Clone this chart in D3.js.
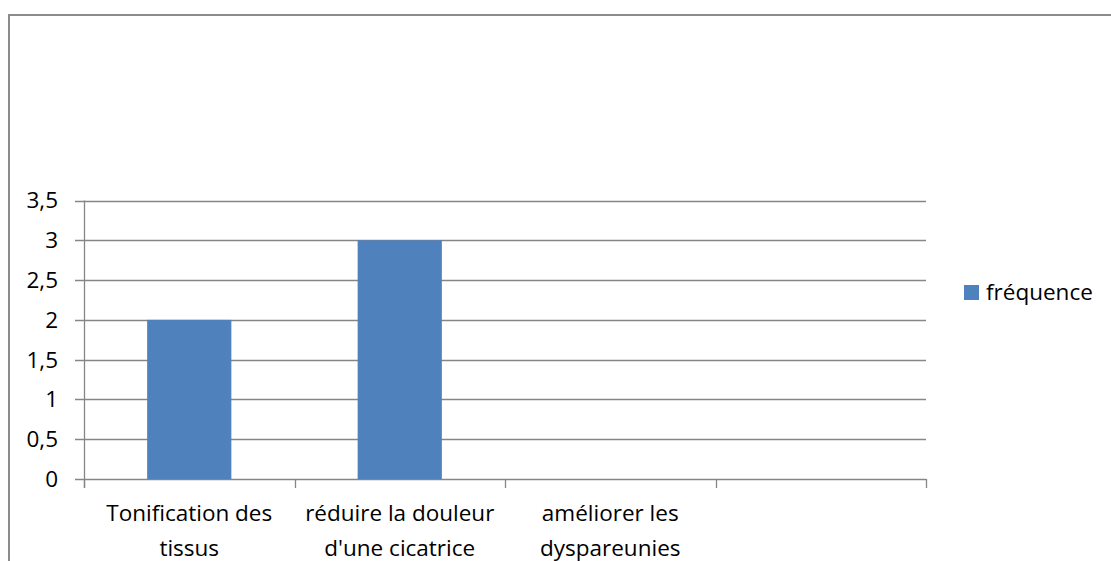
<!DOCTYPE html>
<html><head><meta charset="utf-8">
<script src="https://cdn.jsdelivr.net/npm/d3@7"></script>
<style>body{margin:0;background:#fff}svg{display:block}text{font-family:"Open Sans",sans-serif;fill:#000}</style>
</head><body>
<script>
const categories = ["Tonification des tissus", "réduire la douleur d'une cicatrice", "améliorer les dyspareunies", ""];
const categoryLines = [["Tonification des", "tissus"], ["réduire la douleur", "d'une cicatrice"], ["améliorer les", "dyspareunies"], []];
const frequence = [2, 3, 0, null];
const yTicks = [0, 0.5, 1, 1.5, 2, 2.5, 3, 3.5];
const seriesName = "fréquence";

const W = 1111, H = 561;
const svg = d3.select("body").append("svg").attr("width", W).attr("height", H);
const gridColor = "#868686", barColor = "#4f81bd";
const fs = 22.5;

// frame
svg.append("path").attr("d", `M9,${H} L9,15 L${W},15`).attr("fill", "none")
  .attr("stroke", "#8c8c8c").attr("stroke-width", 2);

const x = d3.scaleBand().domain(d3.range(categories.length)).range([84, 926]).paddingInner(0.6).paddingOuter(0.3);
const y = d3.scaleLinear().domain([0, 3.5]).range([479, 200.5]);
const step = x.step();

// gridlines
svg.append("g").selectAll("line").data(yTicks).join("line")
  .attr("x1", 75).attr("x2", 926).attr("y1", d => Math.round(y(d)) + 0.5).attr("y2", d => Math.round(y(d)) + 0.5)
  .attr("stroke", gridColor).attr("stroke-width", 1.3);

// y axis line
svg.append("line").attr("x1", 84.5).attr("x2", 84.5).attr("y1", y(3.5)).attr("y2", 488)
  .attr("stroke", gridColor).attr("stroke-width", 1.3);

// x ticks
const boundaries = d3.range(categories.length + 1).map(i => 84 + i * step);
svg.append("g").selectAll("line").data(boundaries).join("line")
  .attr("x1", d => Math.round(d) + 0.5).attr("x2", d => Math.round(d) + 0.5).attr("y1", 479).attr("y2", 488)
  .attr("stroke", gridColor).attr("stroke-width", 1.3);

// y labels
svg.append("g").selectAll("text").data(yTicks).join("text")
  .attr("x", 58).attr("y", d => y(d)).attr("dy", "0.35em").attr("text-anchor", "end")
  .attr("font-size", fs).text(d => String(d).replace(".", ","));

// bars
svg.append("g").selectAll("rect").data(frequence.map((v, i) => ({v, i})).filter(d => d.v))
  .join("rect").attr("x", d => x(d.i)).attr("width", x.bandwidth())
  .attr("y", d => y(d.v)).attr("height", d => y(0) - y(d.v)).attr("fill", barColor);

// x labels
const lab = svg.append("g").selectAll("text").data(categoryLines).join("text")
  .attr("text-anchor", "middle").attr("font-size", fs);
lab.each(function(lines, i) {
  const cx = x(i) + x.bandwidth() / 2;
  d3.select(this).selectAll("tspan").data(lines).join("tspan")
    .attr("x", cx).attr("y", (d, j) => 521 + j * 35).text(d => d);
});

// legend
svg.append("rect").attr("x", 964).attr("y", 285).attr("width", 15).attr("height", 15).attr("fill", barColor);
svg.append("text").attr("x", 986).attr("y", 300).attr("font-size", fs).text(seriesName);
</script>
</body></html>
